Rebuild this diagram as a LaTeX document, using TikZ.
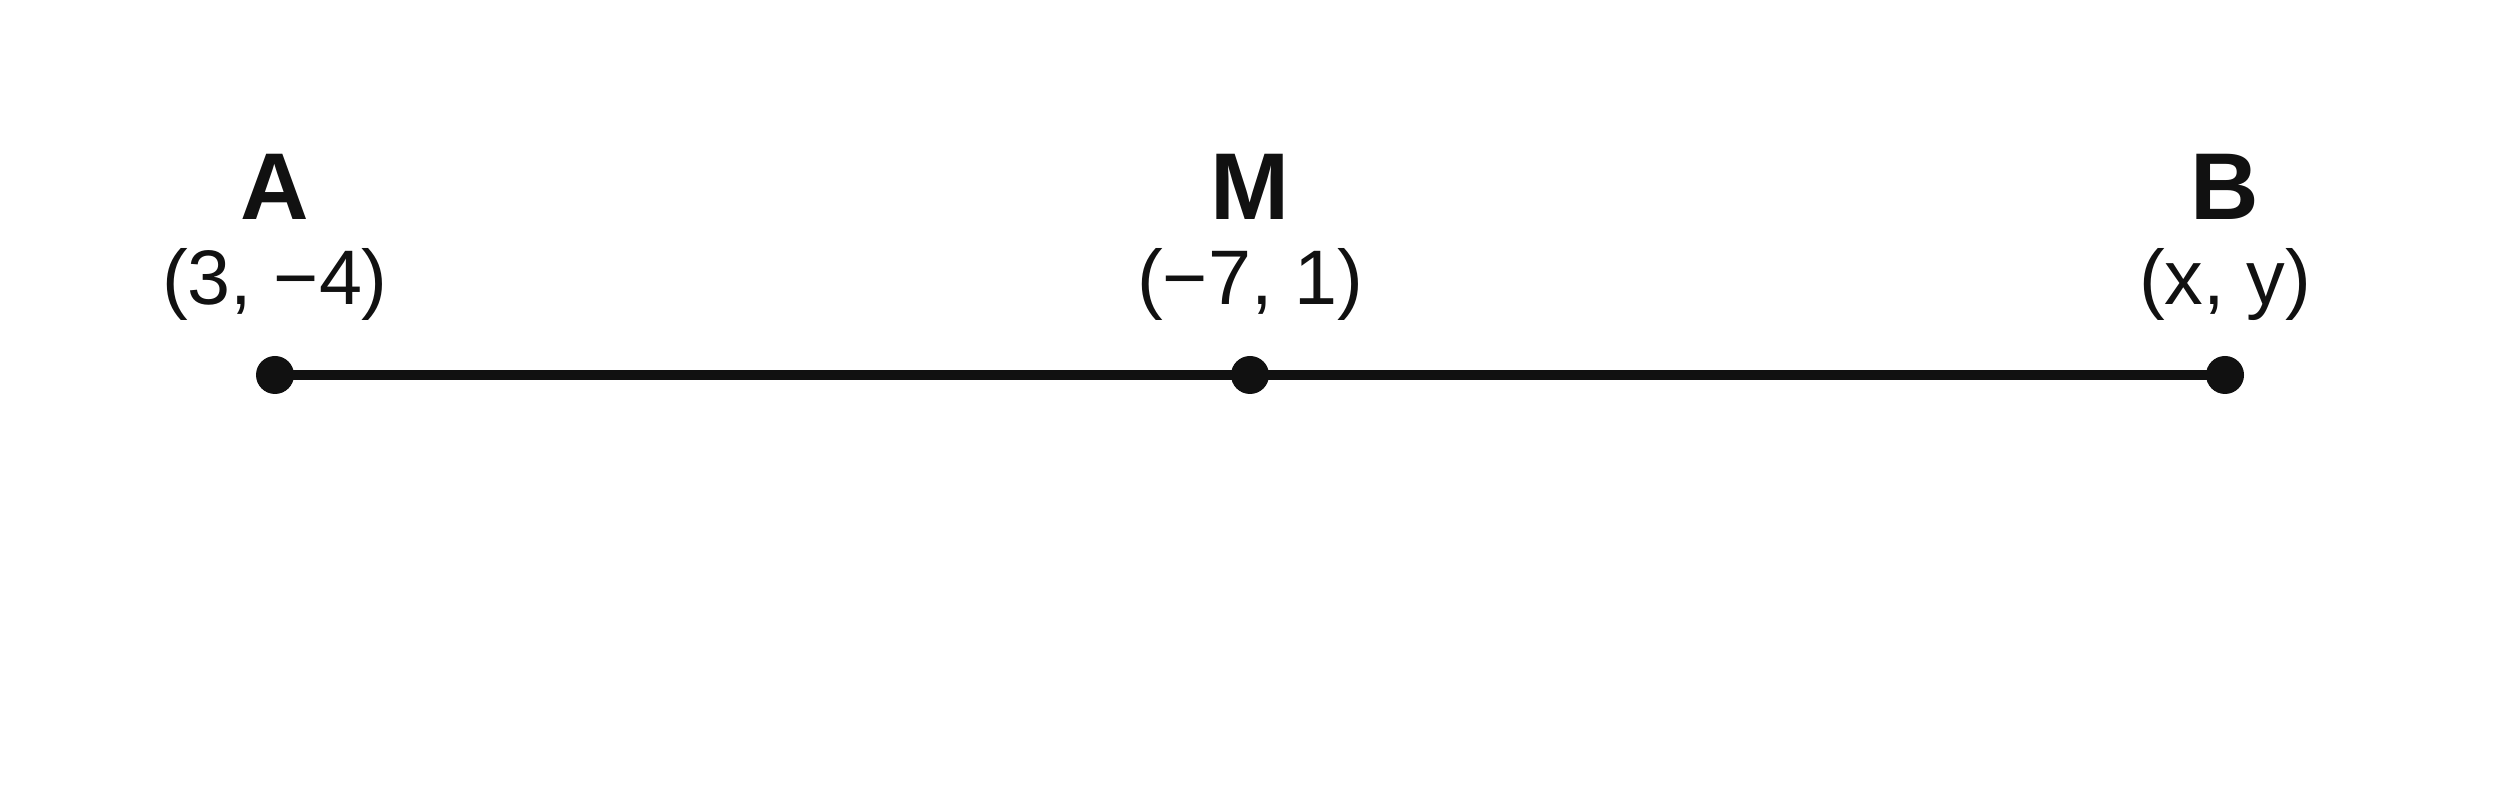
\documentclass[tikz,border=0pt]{standalone}
\usepackage{fontspec}
\setmainfont{Liberation Sans}
\definecolor{inkblack}{HTML}{111111}
\begin{document}
\begin{tikzpicture}
\tikzstyle{dot_style} = [circle, fill=inkblack, inner sep=0pt, minimum size=0.38cm]
\tikzstyle{edge_style} = [inkblack, line width=2.8pt]
\tikzstyle{name_style} = [anchor=base, inner sep=0pt, text=inkblack, font=\fontsize{27}{32}\selectfont\bfseries]
\tikzstyle{coord_style} = [anchor=base, inner sep=0pt, text=inkblack, font=\fontsize{22}{26}\selectfont]
    \useasboundingbox (0,0) rectangle (25,8);

    \node[dot_style] (pA) at (2.75,4.25) {};
    \node[dot_style] (pM) at (12.50,4.25) {};
    \node[dot_style] (pB) at (22.25,4.25) {};

    \draw[edge_style] (pA.center) -- (pM.center);
    \draw[edge_style] (pM.center) -- (pB.center);

    \node[name_style] (nA) at (2.75,5.80) {A};
    \node[name_style] (nM) at (12.50,5.80) {M};
    \node[name_style] (nB) at (22.25,5.80) {B};

    \node[coord_style] (cA) at (2.75,4.95) {(3, −4)};
    \node[coord_style] (cM) at (12.50,4.95) {(−7, 1)};
    \node[coord_style] (cB) at (22.25,4.95) {(x, y)};
\end{tikzpicture}
\end{document}
